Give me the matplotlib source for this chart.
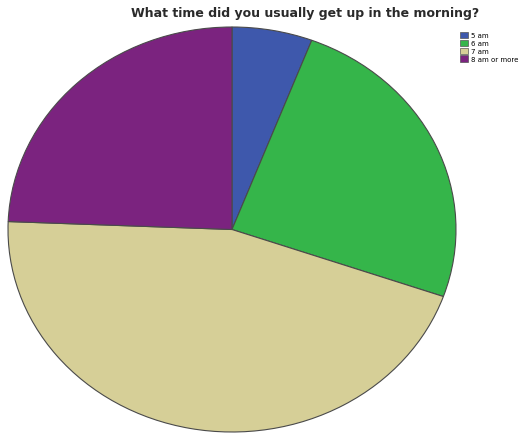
import numpy as np
import matplotlib
matplotlib.use("Agg")
import matplotlib.pyplot as plt
from matplotlib.patches import Patch

labels = ["5 am", "6 am", "7 am", "8 am or more"]
shares = [5.8, 24.6, 45.3, 24.4]
colors = ["#3e58ac", "#35b54a", "#d6cf97", "#7b237f"]

fig = plt.figure(figsize=(5.31, 4.35), dpi=100)
ax = fig.add_axes([8 / 531, 2 / 435, 448 / 531, 405 / 435])
ax.pie(shares, colors=colors, startangle=90, counterclock=False,
       wedgeprops={"edgecolor": "#4a4a4a", "linewidth": 0.8})
ax.set_aspect("auto")
ax.set_xlim(-1.0, 1.0)
ax.set_ylim(-1.0, 1.0)
ax.axis("off")

fig.text(305 / 531, 1 - 14 / 435, "What time did you usually get up in the morning?",
         ha="center", va="center", fontsize=9, fontweight="bold", color="#2a2a2a")

handles = [Patch(facecolor=c, edgecolor="#555555", linewidth=0.5) for c in colors]
fig.legend(handles, labels, loc="upper left", bbox_to_anchor=(455 / 531, 1 - 28 / 435),
           fontsize=5, frameon=False, handlelength=1.2, handleheight=1.0,
           handletextpad=0.4, labelspacing=0.2, borderpad=0.2)

fig.savefig("out.png", dpi=100)
